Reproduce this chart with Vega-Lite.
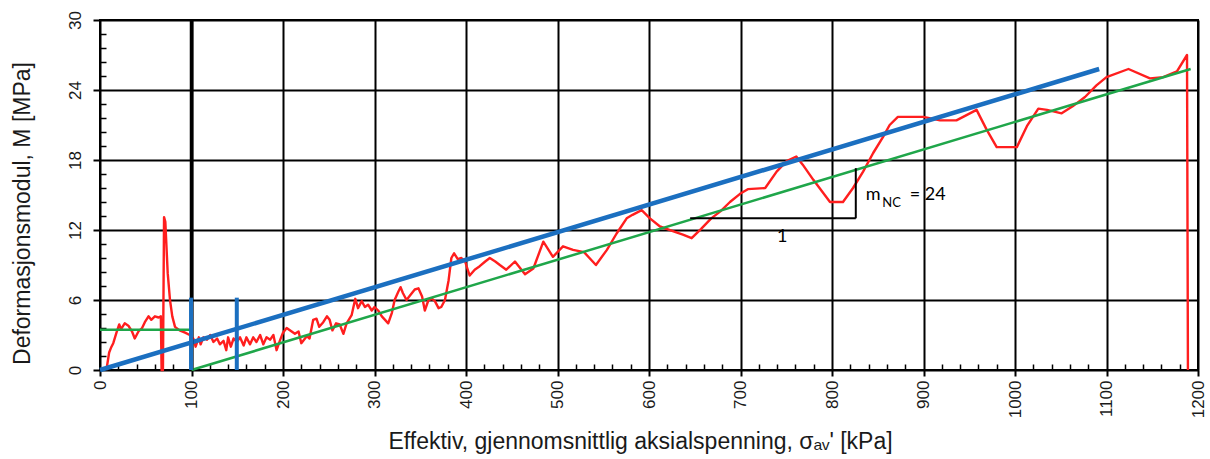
{
  "$schema": "https://vega.github.io/schema/vega-lite/v6.json",
  "width": 1098,
  "height": 350,
  "autosize": "none",
  "padding": {"left": 100, "top": 20, "right": 12, "bottom": 89},
  "background": "white",
  "config": {
    "font": "Liberation Sans",
    "view": {"stroke": "#000", "strokeWidth": 2},
    "axis": {"labelColor": "#1a1a1a", "titleColor": "#1a1a1a", "labelFont": "Liberation Sans", "titleFont": "Liberation Sans", "titleFontWeight": "normal"}
  },
  "datasets": {
    "red": [
      {"x":7,"y":0},{"x":10,"y":1.5},{"x":12,"y":1.9},{"x":14.5,"y":2.3},{"x":18,"y":3.2},{"x":21,"y":3.9},{"x":23,"y":3.5},{"x":27,"y":4.0},{"x":31,"y":3.8},{"x":35,"y":3.3},{"x":38,"y":2.7},{"x":42,"y":3.3},{"x":46,"y":3.6},{"x":49,"y":4.1},{"x":53,"y":4.6},{"x":56,"y":4.3},{"x":60,"y":4.6},{"x":64,"y":4.5},{"x":66.5,"y":4.6},{"x":67.3,"y":0},{"x":68.8,"y":0},{"x":70,"y":13.1},{"x":71.4,"y":12.7},{"x":74,"y":8.3},{"x":76.5,"y":6.0},{"x":79,"y":4.6},{"x":82,"y":3.7},{"x":87,"y":3.4},{"x":93,"y":3.2},{"x":98,"y":3.0},
      {"x":102,"y":2.7},{"x":104.5,"y":2.0},{"x":108,"y":2.8},{"x":110,"y":2.2},{"x":113,"y":2.8},{"x":117,"y":2.6},{"x":120.5,"y":3.0},{"x":124,"y":2.4},{"x":128,"y":2.7},{"x":131,"y":2.2},{"x":135,"y":2.5},{"x":138,"y":1.7},{"x":140,"y":2.8},{"x":143,"y":2.0},{"x":146,"y":2.7},{"x":149.5,"y":2.4},{"x":153,"y":2.8},{"x":157,"y":2.1},{"x":160,"y":2.8},{"x":164,"y":2.2},{"x":167.5,"y":2.8},{"x":171,"y":2.4},{"x":175,"y":3.0},{"x":178.5,"y":2.2},{"x":182,"y":2.8},{"x":186,"y":2.6},{"x":189.5,"y":3.0},{"x":193,"y":1.7},{"x":197,"y":2.6},
      {"x":200,"y":3.2},{"x":204,"y":3.6},{"x":207.5,"y":3.4},{"x":213,"y":3.1},{"x":217,"y":3.3},{"x":220,"y":2.3},{"x":226,"y":2.9},{"x":229,"y":2.7},{"x":233,"y":4.3},{"x":236.6,"y":4.4},{"x":239.6,"y":3.7},{"x":244,"y":4.1},{"x":248,"y":4.6},{"x":251,"y":4.3},{"x":254,"y":3.4},{"x":258,"y":4.0},{"x":262,"y":3.9},{"x":266,"y":3.1},{"x":269.5,"y":4.0},{"x":275,"y":4.7},{"x":279,"y":6.1},{"x":282,"y":5.3},{"x":286,"y":5.9},{"x":289.5,"y":5.4},{"x":293,"y":5.6},{"x":297,"y":5.1},
      {"x":300,"y":5.4},{"x":304,"y":5.1},{"x":308,"y":4.6},{"x":311.5,"y":4.3},{"x":315,"y":4.0},{"x":319,"y":4.9},{"x":322,"y":6.0},{"x":326,"y":6.7},{"x":328.5,"y":7.1},{"x":331,"y":6.6},{"x":335,"y":6.0},{"x":339,"y":6.4},{"x":344,"y":6.9},{"x":348,"y":7.0},{"x":352,"y":6.3},{"x":355,"y":5.1},{"x":359,"y":6.0},{"x":363,"y":6.1},{"x":366,"y":5.9},{"x":370,"y":5.3},{"x":373,"y":5.4},{"x":377,"y":6.0},{"x":381,"y":7.7},{"x":384,"y":9.6},{"x":387,"y":10.0},{"x":391,"y":9.5},{"x":395,"y":9.6},{"x":399,"y":9.3},
      {"x":404,"y":8.1},{"x":409.5,"y":8.6},{"x":415,"y":8.9},{"x":421,"y":9.3},{"x":426,"y":9.6},{"x":432,"y":9.3},{"x":437,"y":9.0},{"x":444,"y":8.6},{"x":453.5,"y":9.3},{"x":464.5,"y":8.2},{"x":473.6,"y":8.7},{"x":484.5,"y":11.0},{"x":495,"y":9.7},{"x":506,"y":10.6},{"x":517,"y":10.3},{"x":529,"y":10.1},{"x":542,"y":9.0},{"x":554,"y":10.3},{"x":564.6,"y":11.7},{"x":575.6,"y":13.0},{"x":582,"y":13.3},{"x":592,"y":13.7},
      {"x":601,"y":13.0},{"x":612,"y":12.3},{"x":626,"y":11.9},{"x":637,"y":11.6},{"x":646.6,"y":11.3},{"x":657,"y":12.1},{"x":668,"y":13.0},{"x":678,"y":13.6},{"x":688.5,"y":14.4},{"x":699.5,"y":15.1},{"x":708,"y":15.5},{"x":727,"y":15.6},{"x":739.5,"y":17.0},{"x":750.4,"y":17.9},{"x":761,"y":18.3},{"x":768,"y":17.6},{"x":779.6,"y":16.3},{"x":797.8,"y":14.4},{"x":812,"y":14.4},{"x":823,"y":15.6},{"x":834,"y":17.0},{"x":845,"y":18.6},{"x":856,"y":20.0},{"x":863,"y":21.0},{"x":872,"y":21.7},
      {"x":900,"y":21.7},{"x":918,"y":21.4},{"x":936,"y":21.4},{"x":958,"y":22.3},{"x":969,"y":20.6},{"x":980,"y":19.1},{"x":1002,"y":19.1},{"x":1013,"y":20.9},{"x":1025.5,"y":22.4},{"x":1035,"y":22.3},{"x":1051,"y":22.0},{"x":1063,"y":22.6},{"x":1076.5,"y":23.4},{"x":1089,"y":24.4},{"x":1100,"y":25.1},{"x":1124,"y":25.8},{"x":1147.5,"y":25.0},{"x":1162,"y":25.1},{"x":1177,"y":25.6},{"x":1188,"y":27.0},{"x":1189,"y":0}
    ],
    "segs": [
      {"name":"green","x":0,"y":3.45,"x2":100,"y2":3.45},
      {"name":"green","x":100,"y":0,"x2":1192,"y2":25.8},
      {"name":"blue","x":0,"y":0,"x2":1092,"y2":25.8},
      {"name":"black","x":100,"y":0,"x2":100,"y2":30},
      {"name":"bluev","x":99.5,"y":0,"x2":99.5,"y2":6.2},
      {"name":"bluev","x":149.5,"y":0,"x2":149.5,"y2":6.2},
      {"name":"slope","x":645,"y":13.0,"x2":826,"y2":13.0},
      {"name":"slope","x":826,"y":13.0,"x2":826,"y2":17.3}
    ],
    "notes": [
      {"t":"m","x":837,"y":14.55,"size":"big"},
      {"t":"NC","x":855,"y":14.0,"size":"small"},
      {"t":"= 24","x":885,"y":14.55,"size":"big"},
      {"t":"1","x":740,"y":11.0,"size":"big"}
    ]
  },
  "layer": [
    {
      "data": {"name": "red"},
      "mark": {"type": "line", "color": "#ff1e1e", "strokeWidth": 2.4, "strokeJoin": "round"},
      "encoding": {
        "x": {"field": "x", "type": "quantitative",
          "scale": {"domain": [0, 1200], "nice": false, "zero": false},
          "axis": {"orient": "bottom", "values": [0,100,200,300,400,500,600,700,800,900,1000,1100,1200], "format": "d",
            "grid": true, "gridColor": "#000", "gridWidth": 2, "gridOpacity": 1,
            "domain": false, "tickColor": "#000", "tickWidth": 2, "tickSize": 6,
            "labelAngle": -90, "labelFontSize": 17, "labelPadding": 4, "labelFlush": false, "labelOverlap": false,
            "title": "Effektiv, gjennomsnittlig aksialspenning, σₐᵥ'  [kPa]", "titleFontSize": 23,
            "titleX": 540, "titleY": 78, "titleAlign": "center", "titleBaseline": "alphabetic"}},
        "y": {"field": "y", "type": "quantitative",
          "scale": {"domain": [0, 30], "nice": false, "zero": false},
          "axis": {"orient": "left", "values": [0,6,12,18,24,30],
            "grid": true, "gridColor": "#000", "gridWidth": 2, "gridOpacity": 1,
            "domain": false, "tickColor": "#000", "tickWidth": 2, "tickSize": 7,
            "labelAngle": -90, "labelFontSize": 17, "labelPadding": 9, "labelFlush": false, "labelOverlap": false,
            "title": "Deformasjonsmodul, M [MPa]", "titleFontSize": 23, "titleAngle": -90,
            "titleX": -78, "titleY": 193, "titleAlign": "center", "titleBaseline": "middle"}}
      }
    },
    {
      "data": {"name": "segs"},
      "mark": {"type": "rule"},
      "encoding": {
        "x": {"field": "x", "type": "quantitative",
          "axis": {"orient": "bottom", "values": [20,40,60,80,120,140,160,180,220,240,260,280,320,340,360,380,420,440,460,480,520,540,560,580,620,640,660,680,720,740,760,780,820,840,860,880,920,940,960,980,1020,1040,1060,1080,1120,1140,1160,1180],
            "grid": false, "domain": false, "labels": false, "title": null, "tickColor": "#000", "tickWidth": 1.5, "tickSize": -6}},
        "x2": {"field": "x2"},
        "y": {"field": "y", "type": "quantitative",
          "axis": {"orient": "left", "values": [1.2,2.4,3.6,4.8,7.2,8.4,9.6,10.8,13.2,14.4,15.6,16.8,19.2,20.4,21.6,22.8,25.2,26.4,27.6,28.8],
            "grid": false, "domain": false, "labels": false, "title": null, "tickColor": "#000", "tickWidth": 1.5, "tickSize": -6}},
        "y2": {"field": "y2"},
        "color": {"field": "name", "type": "nominal", "legend": null,
          "scale": {"domain": ["green","blue","black","bluev","slope"], "range": ["#1fa64a","#1b6fc0","#000000","#1b6fc0","#000000"]}},
        "strokeWidth": {"field": "name", "type": "nominal", "legend": null,
          "scale": {"type": "ordinal", "domain": ["green","blue","black","bluev","slope"], "range": [2.5, 4.5, 3.5, 4, 2]}}
      }
    },
    {
      "data": {"name": "notes"},
      "transform": [{"filter": "datum.size == 'big'"}],
      "mark": {"type": "text", "align": "left", "baseline": "alphabetic", "font": "Lato", "fontSize": 18, "color": "#000"},
      "encoding": {
        "x": {"field": "x", "type": "quantitative", "axis": null},
        "y": {"field": "y", "type": "quantitative", "axis": null},
        "text": {"field": "t"}
      }
    },
    {
      "data": {"name": "notes"},
      "transform": [{"filter": "datum.size == 'small'"}],
      "mark": {"type": "text", "align": "left", "baseline": "alphabetic", "font": "Lato", "fontSize": 13, "color": "#000"},
      "encoding": {
        "x": {"field": "x", "type": "quantitative", "axis": null},
        "y": {"field": "y", "type": "quantitative", "axis": null},
        "text": {"field": "t"}
      }
    }
  ],
  "resolve": {"axis": {"x": "independent", "y": "independent"}}
}
